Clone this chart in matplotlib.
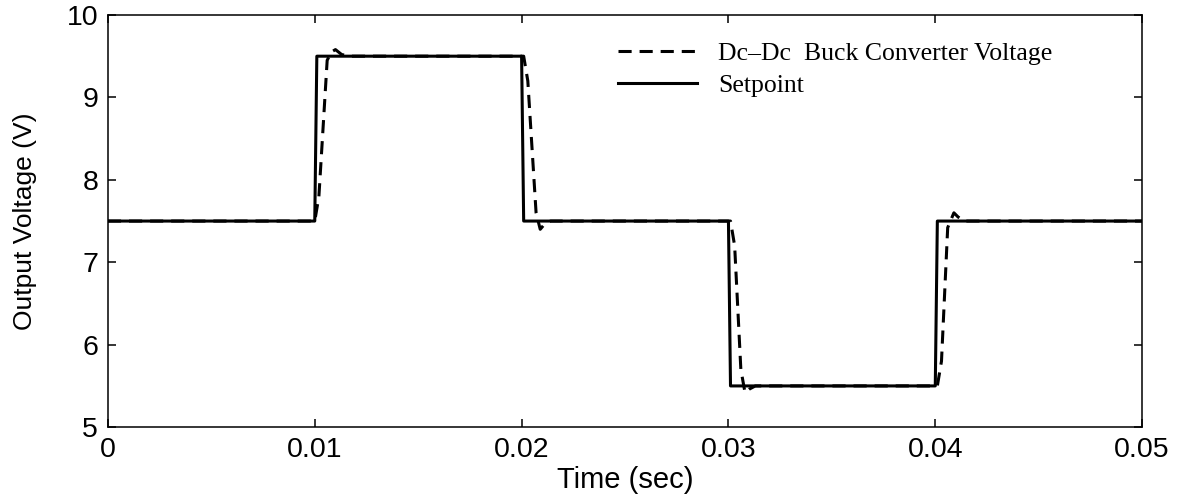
import matplotlib
matplotlib.use('Agg')
import matplotlib.pyplot as plt

# setpoint (reference voltage)
setpoint_t = [0, 0.0100, 0.0101, 0.0200, 0.0201, 0.0300, 0.0301, 0.0400, 0.0401, 0.05]
setpoint_v = [7.5, 7.5, 9.5, 9.5, 7.5, 7.5, 5.5, 5.5, 7.5, 7.5]

# converter output voltage
buck_t = [0, 0.0100, 0.0102, 0.0106, 0.0108, 0.0110, 0.0113, 0.0117,
          0.0201, 0.0203, 0.0207, 0.0209, 0.0211, 0.0214,
          0.0301, 0.0303, 0.0306, 0.0308, 0.0310, 0.0313,
          0.0401, 0.0403, 0.0406, 0.0409, 0.0411, 0.0414, 0.05]
buck_v = [7.5, 7.5, 7.8, 9.45, 9.55, 9.58, 9.52, 9.5,
          9.5, 9.2, 7.6, 7.40, 7.46, 7.5,
          7.5, 7.2, 5.7, 5.42, 5.46, 5.5,
          5.5, 5.8, 7.42, 7.6, 7.55, 7.5, 7.5]

plt.rcParams['font.family'] = 'Liberation Sans'

fig = plt.figure(figsize=(11.86, 4.99), dpi=100)
ax = fig.add_axes([0.091, 0.144, 0.872, 0.826])

ax.plot(buck_t, buck_v, 'k--', lw=2.2, dashes=(4.3, 2.6), label='Dc\u2013Dc  Buck Converter Voltage')
ax.plot(setpoint_t, setpoint_v, 'k-', lw=2.2, label='Setpoint')

ax.set_xlim(0, 0.05)
ax.set_ylim(5, 10)
ax.set_xticks([0, 0.01, 0.02, 0.03, 0.04, 0.05])
ax.set_xticklabels(['0', '0.01', '0.02', '0.03', '0.04', '0.05'])
ax.set_yticks([5, 6, 7, 8, 9, 10])
ax.tick_params(direction='in', length=6, width=1.1, top=True, right=True,
               labelsize=20.5, pad=7)
for s in ax.spines.values():
    s.set_linewidth(1.1)

ax.set_xlabel('Time (sec)', fontsize=21, labelpad=2)
ax.set_ylabel('Output Voltage (V)', fontsize=19, labelpad=21)

leg = ax.legend(loc='upper left', bbox_to_anchor=(0.493, 0.935), frameon=False,
                prop={'family': 'Liberation Serif', 'size': 18.5},
                handlelength=3.1, handletextpad=0.8, borderpad=0,
                borderaxespad=0, labelspacing=0.35)

fig.savefig('out.png', dpi=100)
